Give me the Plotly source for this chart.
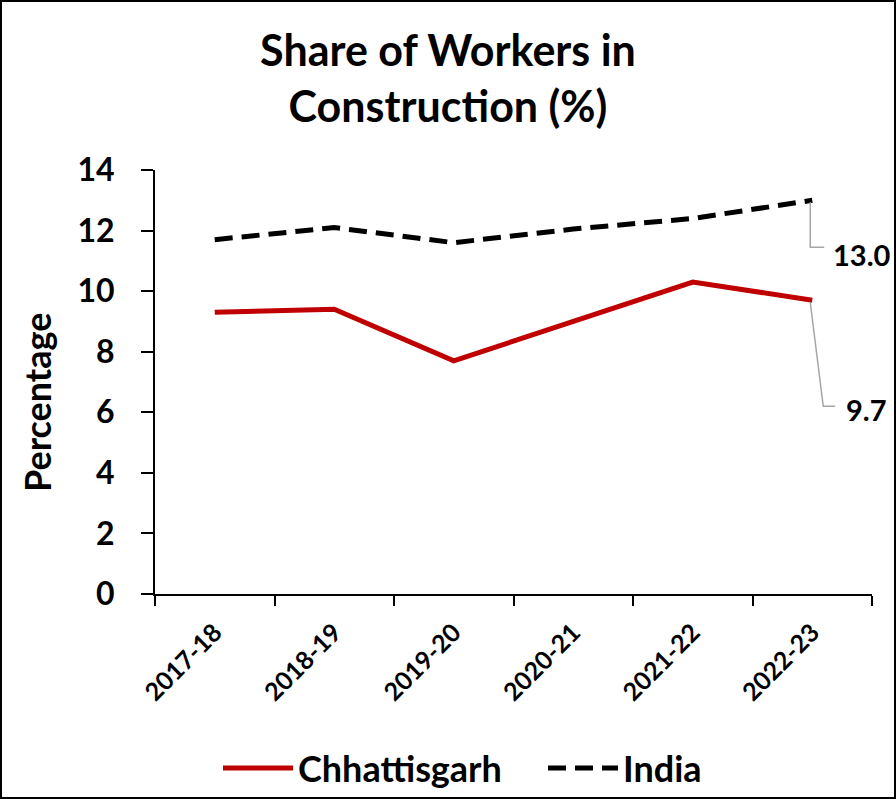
import plotly.graph_objects as go

years = ["2017-18", "2018-19", "2019-20", "2020-21", "2021-22", "2022-23"]
chhattisgarh = [9.3, 9.4, 7.7, 9.0, 10.3, 9.7]
india = [11.7, 12.1, 11.6, 12.05, 12.4, 13.0]
y_ticks = [0, 2, 4, 6, 8, 10, 12, 14]

FONT = "Lato"
W, H = 896, 799
ML, MR, MT, MB = 155, 24, 170, 205
PW, PH = W - ML - MR, H - MT - MB


def bold(size):
    return dict(family=FONT, size=size, color="black", weight="bold")


fig = go.Figure()
fig.add_trace(go.Scatter(x=years, y=chhattisgarh, name="Chhattisgarh", mode="lines",
                         line=dict(color="#C00000", width=5)))
fig.add_trace(go.Scatter(x=years, y=india, name="India", mode="lines",
                         line=dict(color="black", width=5, dash="18px,9px")))

# data labels for last points
last_i = len(years) - 1
fig.add_annotation(x=last_i, y=india[-1], xref="x", yref="y", text=f"{india[-1]:.1f}",
                   showarrow=False, xanchor="left", yanchor="middle", xshift=19, yshift=-54,
                   font=bold(29))
fig.add_annotation(x=last_i, y=chhattisgarh[-1], xref="x", yref="y", text=f"{chhattisgarh[-1]:.1f}",
                   showarrow=False, xanchor="left", yanchor="middle", xshift=32, yshift=-109,
                   font=bold(29))
# leader lines (pixel offsets from the last data point)
fig.add_shape(type="path", xref="x", yref="y", xsizemode="pixel", ysizemode="pixel",
              xanchor=last_i, yanchor=india[-1],
              path="M -2,-2 L -2,-47 L 12,-47", line=dict(color="#A6A6A6", width=1.5))
fig.add_shape(type="path", xref="x", yref="y", xsizemode="pixel", ysizemode="pixel",
              xanchor=last_i, yanchor=chhattisgarh[-1],
              path="M -2,-2 L 11,-106 L 23,-106", line=dict(color="#A6A6A6", width=1.5))

# y-axis title (placed as an annotation to match the reference's offset position)
fig.add_annotation(text="Percentage", xref="paper", yref="paper", x=(37 - ML) / PW,
                   y=(MT + PH - 402) / PH, xanchor="center", yanchor="middle",
                   textangle=-90, showarrow=False, font=bold(36))

# figure border
fig.add_shape(type="rect", xref="paper", yref="paper",
              x0=(1 - ML) / PW, x1=(W - 1 - ML) / PW,
              y0=-(MB - 1) / PH, y1=(PH + MT - 1) / PH,
              line=dict(color="black", width=2), fillcolor="rgba(0,0,0,0)")

fig.update_layout(
    width=W, height=H,
    margin=dict(l=ML, r=MR, t=MT, b=MB, autoexpand=False),
    paper_bgcolor="white", plot_bgcolor="white",
    font=dict(family=FONT, color="black"),
    title=dict(text="Share of Workers in<br>Construction (%)", x=0.5, xanchor="center",
               xref="container", yref="container",
               y=1 - 66 / H, yanchor="middle", font=bold(43)),
    legend=dict(orientation="h", x=(218 - ML) / PW, xanchor="left", y=(MT + PH - 768) / PH,
                yanchor="middle", font=bold(36), itemwidth=70, entrywidth=240,
                traceorder="normal", bgcolor="rgba(0,0,0,0)"),
    showlegend=True,
)
fig.update_xaxes(type="category", range=[-0.5, 5.5], showline=True, linecolor="black", linewidth=2,
                 ticks="outside", tickson="boundaries", ticklen=10, tickwidth=2, tickcolor="black",
                 tickangle=-45, tickfont=bold(25), ticklabelstandoff=12, automargin=False,
                 showgrid=False, zeroline=False)
fig.update_yaxes(range=[0, 14], tickvals=y_ticks, showline=True, linecolor="black", linewidth=2,
                 ticks="outside", ticklen=12, tickwidth=2, tickcolor="black",
                 tickfont=bold(32), ticklabelstandoff=20, automargin=False,
                 showgrid=False, zeroline=False)

fig.write_html("out.html", config={"displayModeBar": False},
               post_script="document.body.style.margin='0';")
